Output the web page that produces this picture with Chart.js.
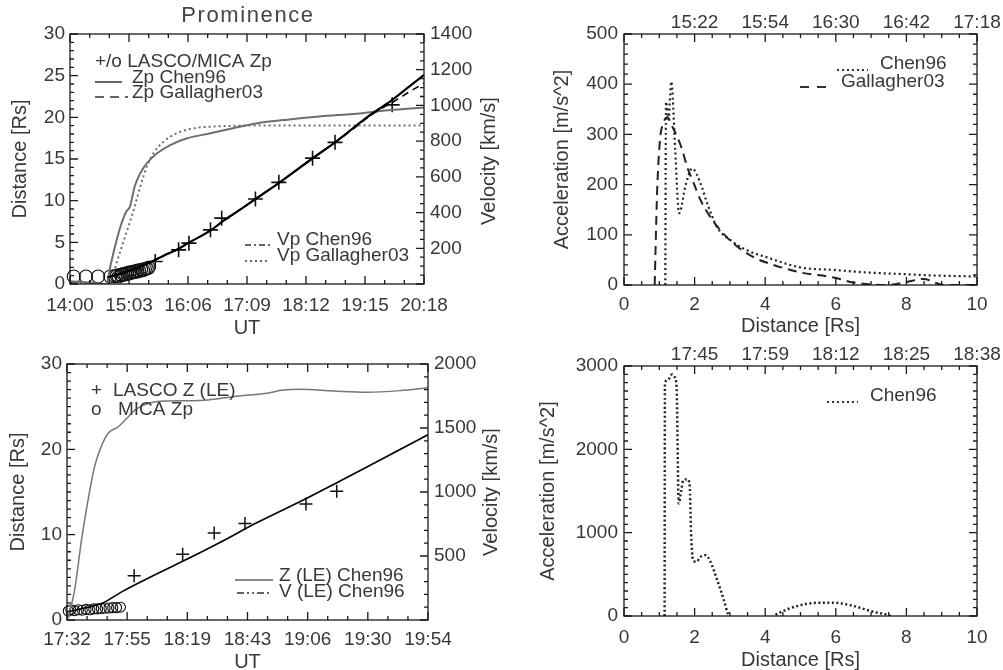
<!DOCTYPE html>
<html>
<head>
<meta charset="utf-8">
<title>Prominence</title>
<script src="https://cdn.jsdelivr.net/npm/chart.js@4"></script>
<style>
  html, body { margin: 0; padding: 0; background: #fff; overflow: hidden; }
  #page { position: relative; width: 1003px; height: 670px; }
  canvas { position: absolute; }
</style>
</head>
<body>
<div id="page">
  <canvas id="promChart" width="500" height="340" style="left:0;top:0"></canvas>
  <canvas id="promAccChart" width="503" height="340" style="left:500px;top:0"></canvas>
  <canvas id="leChart" width="500" height="339" style="left:0;top:335px"></canvas>
  <canvas id="leAccChart" width="503" height="339" style="left:500px;top:335px"></canvas>
</div>
<script>
const FONT = "'Liberation Sans', Arial, sans-serif";
const INK = '#383838';

// Prominence, times in minutes after 14:00 UT
const promTimeLabels = ['14:00', '15:03', '16:06', '17:09', '18:12', '19:15', '20:18'];
const promTimeStep = 63;

const promVelChenT = [0, 20, 39, 43, 48, 55, 60, 64, 69, 75, 82, 93, 107, 125, 150, 174, 203, 228, 263, 299, 334, 378];
const promVelChen = [15, 8, 0, 97, 209, 340, 405, 433, 545, 620, 676, 732, 778, 816, 844, 872, 903, 918, 937, 950, 970, 989];

const promVelGalT = [0, 39, 46, 53, 60, 68, 75, 82, 89, 100, 114, 132, 150, 167, 200, 378];
const promVelGal = [0, 0, 60, 172, 284, 414, 545, 657, 732, 797, 844, 872, 881, 885, 888, 888];

const promZChenT = [40, 50, 60, 70, 80, 90, 100, 114, 126, 151, 164, 180, 198, 224, 258, 283, 300, 317, 343, 360, 378];
const promZChen = [0.8, 1.1, 1.45, 1.85, 2.3, 2.85, 3.4, 4.1, 4.9, 6.5, 7.6, 8.8, 10.2, 12.2, 15.0, 17.0, 18.5, 20.0, 22.0, 23.5, 25.1];

const promZGalT = [40, 50, 60, 70, 80, 90, 100, 114, 126, 151, 164, 180, 198, 224, 258, 283, 300, 317, 330, 343, 363, 378];
const promZGal = [0.8, 1.1, 1.45, 1.85, 2.3, 2.85, 3.4, 4.1, 4.9, 6.5, 7.6, 8.8, 10.2, 12.2, 15.0, 17.0, 18.4, 19.9, 20.9, 21.7, 23.1, 24.1];

const promLascoT = [91, 116, 127, 150, 162, 198, 223, 259, 283, 344];
const promLascoZ = [2.7, 4.1, 4.9, 6.5, 7.9, 10.2, 12.2, 15.1, 17.0, 21.5];

const promMicaT = [4, 17, 30, 43, 48, 50, 52, 54, 55, 57, 59, 61, 63, 64, 66, 68, 70, 72, 74, 76, 78, 80, 82, 84];
const promMicaZ = [0.9, 0.9, 0.9, 0.9, 0.95, 1.0, 0.9, 1.1, 1.05, 1.2, 1.15, 1.3, 1.25, 1.4, 1.35, 1.5, 1.45, 1.6, 1.55, 1.7, 1.65, 1.8, 1.85, 1.95];

// Prominence acceleration vs distance
const promTopDist = [2, 4, 6, 8, 10];
const promTopTimes = ['15:22', '15:54', '16:30', '16:42', '17:18'];

const promAccChenR = [1.17, 1.19, 1.26, 1.34, 1.45, 1.56, 1.75, 1.93, 2.17, 2.36, 2.64, 3.02, 3.49, 4.05, 5.0, 5.94, 6.88, 7.82, 8.77, 10.0];
const promAccChen = [0, 365, 330, 405, 270, 143, 200, 232, 202, 162, 115, 89, 69, 55, 35, 30, 25, 22, 19, 17];

const promAccGalR = [0.87, 0.89, 0.94, 1.02, 1.1, 1.23, 1.37, 1.51, 1.65, 1.79, 1.98, 2.17, 2.45, 2.73, 3.11, 3.68, 4.15, 5.0, 5.94, 6.5, 7.45, 8.0, 8.48, 9.05, 10.0];
const promAccGal = [0, 60, 189, 290, 320, 334, 315, 295, 269, 235, 202, 169, 135, 109, 82, 55, 42, 25, 15, 5, 0, 6, 12, 0, 0];

// Leading edge, times in minutes after 17:32 UT
const leTimeLabels = ['17:32', '17:55', '18:19', '18:43', '19:06', '19:30', '19:54'];
const leTimeStep = 142 / 6;

const leVelT = [0.5, 3.1, 5.8, 8.4, 11.0, 13.7, 16.2, 20.2, 23.5, 26.8, 32.0, 38.6, 47.7, 55.6, 65.4, 78.6, 85.1, 91.7, 104.8, 117.9, 131, 142];
const leVel = [13, 248, 638, 951, 1211, 1367, 1459, 1510, 1576, 1641, 1693, 1711, 1713, 1719, 1745, 1771, 1797, 1802, 1789, 1779, 1792, 1815];

const leZT = [0.5, 7, 13.7, 21.5, 34.6, 47.7, 60.9, 74, 94.5, 142];
const leZ = [0.97, 1.4, 1.95, 3.3, 5.3, 7.2, 9.2, 11.3, 14.3, 21.7];

const leLascoT = [26.4, 45.5, 57.9, 70, 94, 106.1];
const leLascoZ = [5.2, 7.7, 10.2, 11.3, 13.6, 15.1];

const leMicaT = [0.5, 1.5, 3, 4.5, 6, 7.5, 9, 10.5, 12, 13.5, 15, 16.5, 18, 19.5, 21];
const leMicaZ = [1.05, 1.2, 1.1, 1.2, 1.15, 1.25, 1.2, 1.3, 1.3, 1.35, 1.4, 1.4, 1.45, 1.45, 1.5];

// Leading edge acceleration vs distance
const leTopDist = [2, 4, 6, 8, 10];
const leTopTimes = ['17:45', '17:59', '18:12', '18:25', '18:38'];

const leAccR = [1.15, 1.16, 1.23, 1.37, 1.43, 1.49, 1.55, 1.62, 1.68, 1.8, 1.86, 1.9, 1.95, 2.05, 2.17, 2.31, 2.45, 2.64, 2.83, 2.94, 3.2, 3.7, 4.1, 4.24, 5.0, 5.56, 5.94, 6.5, 7.07, 7.49, 7.7];
const leAcc = [0, 2790, 2830, 2900, 2870, 2750, 1350, 1500, 1630, 1640, 1560, 1000, 680, 650, 710, 730, 650, 430, 190, 30, -200, -250, -50, 0, 130, 160, 160, 120, 50, 10, -30];

Chart.defaults.font.family = FONT;
Chart.defaults.color = INK;

function pts(xs, ys) {
  return xs.map((x, i) => ({ x: x, y: ys[i] }));
}

function line(xs, ys, axis, color, width, dash) {
  return {
    data: pts(xs, ys), yAxisID: axis, showLine: true, pointRadius: 0,
    borderColor: color, borderWidth: width, borderDash: dash, borderCapStyle: 'butt',
    cubicInterpolationMode: 'monotone', fill: false
  };
}

function symbols(xs, ys, style, r, width) {
  return {
    data: pts(xs, ys), yAxisID: 'y', showLine: false, pointStyle: style, pointRadius: r,
    pointBorderColor: '#111', pointBackgroundColor: 'rgba(0,0,0,0)', pointBorderWidth: width, clip: false
  };
}

const noGrid = { display: false, drawTicks: false };
const noBorder = { display: false };

function tickOpts(pad, cb) {
  return { color: INK, font: { size: 19 }, padding: pad, maxRotation: 0, autoSkip: false, callback: cb || (v => String(v)) };
}

function axisTitle(text, pad) {
  return { display: true, text: text, color: INK, font: { size: 20 }, padding: pad };
}

// IDL style frame: box, inward major/minor ticks, free-placed legend texts
const idlFrame = {
  id: 'idlFrame',
  afterDraw(chart, args, opts) {
    const { ctx, chartArea: a } = chart;
    ctx.save();
    ctx.strokeStyle = '#1a1a1a';
    ctx.lineWidth = 1.3;
    ctx.setLineDash([]);
    ctx.strokeRect(a.left, a.top, a.right - a.left, a.bottom - a.top);
    Object.values(chart.scales).forEach(s => {
      if ((opts.skip || []).includes(s.id)) return;
      const sub = (opts.minor || {})[s.id] || 1;
      const v = s.ticks.map(t => t.value);
      const marks = [];
      v.forEach((val, i) => {
        marks.push([val, 8]);
        if (i < v.length - 1) {
          for (let k = 1; k < sub; k++) marks.push([val + (v[i + 1] - val) * k / sub, 4]);
        }
      });
      ctx.beginPath();
      marks.forEach(([val, len]) => {
        const p = s.getPixelForValue(val);
        if (s.isHorizontal()) {
          if (s.position === 'bottom') { ctx.moveTo(p, a.bottom); ctx.lineTo(p, a.bottom - len); }
          if (s.position === 'top' || (s.position === 'bottom' && opts.mirrorX)) { ctx.moveTo(p, a.top); ctx.lineTo(p, a.top + len); }
        } else {
          if (s.position === 'left') { ctx.moveTo(a.left, p); ctx.lineTo(a.left + len, p); }
          if (s.position === 'right' || (s.position === 'left' && opts.mirrorY)) { ctx.moveTo(a.right, p); ctx.lineTo(a.right - len, p); }
        }
      });
      ctx.stroke();
    });

    (opts.notes || []).forEach(n => {
      if (n.line) {
        ctx.beginPath();
        ctx.strokeStyle = n.line.color || '#333';
        ctx.lineWidth = n.line.width || 2;
        ctx.setLineDash(n.line.dash || []);
        ctx.moveTo(n.line.x1, n.line.y);
        ctx.lineTo(n.line.x2, n.line.y);
        ctx.stroke();
        ctx.setLineDash([]);
      }
      ctx.fillStyle = n.color || INK;
      ctx.font = (n.size || 19) + 'px ' + FONT;
      ctx.textBaseline = 'middle';
      if (n.rotate) {
        ctx.save();
        ctx.translate(n.x, n.y);
        ctx.rotate(-Math.PI / 2);
        ctx.textAlign = 'center';
        ctx.fillText(n.text, 0, 0);
        ctx.restore();
      } else {
        ctx.textAlign = n.align || 'left';
        if (n.spacing && 'letterSpacing' in ctx) ctx.letterSpacing = n.spacing;
        ctx.fillText(n.text, n.x, n.y);
        if ('letterSpacing' in ctx) ctx.letterSpacing = '0px';
      }
    });
    ctx.restore();
  }
};

const base = { responsive: false, animation: false, devicePixelRatio: 1, events: [] };

// Panel 1: prominence distance and velocity
new Chart(document.getElementById('promChart'), {
  type: 'scatter',
  data: {
    datasets: [
      line(promZChenT, promZChen, 'y', '#000', 2.2, []),
      line(promZGalT, promZGal, 'y', '#000', 1.6, [7, 5]),
      line(promVelChenT, promVelChen, 'y1', '#6e6e6e', 2, []),
      line(promVelGalT, promVelGal, 'y1', '#6e6e6e', 2, [2, 3]),
      symbols(promLascoT, promLascoZ, 'cross', 7.5, 1.6),
      symbols(promMicaT, promMicaZ, 'circle', 6.5, 1.2)
    ]
  },
  options: {
    ...base,
    layout: { padding: { top: 34 } },
    plugins: {
      legend: { display: false },
      tooltip: { enabled: false },
      idlFrame: {
        minor: { x: 3, y: 5, y1: 4 },
        mirrorX: true,
        notes: [
          { text: 'Prominence', x: 248, y: 16, size: 22, align: 'center', spacing: '1.6px', color: '#444' },
          { text: '+/o LASCO/MICA Zp', x: 95, y: 62 },
          { text: 'Zp Chen96', x: 132, y: 78, line: { x1: 95, x2: 122, y: 82, color: '#666', width: 2 } },
          { text: 'Zp Gallagher03', x: 132, y: 93, line: { x1: 95, x2: 128, y: 97, dash: [9, 6], width: 1.6 } },
          { text: 'Vp Chen96', x: 277, y: 240, line: { x1: 245, x2: 270, y: 245, dash: [6, 3, 2, 3], width: 1.6 } },
          { text: 'Vp Gallagher03', x: 277, y: 256, line: { x1: 245, x2: 268, y: 261, dash: [2, 3], width: 1.6 } },
          { text: 'Velocity [km/s]', x: 489, y: 161, rotate: true, size: 20 }
        ]
      }
    },
    scales: {
      x: {
        type: 'linear', position: 'bottom', min: 0, max: 378,
        afterBuildTicks: s => { s.ticks = promTimeLabels.map((_, i) => ({ value: i * promTimeStep })); },
        afterFit: s => { s.height = 56; },
        grid: noGrid, border: noBorder,
        ticks: tickOpts(10, (v, i) => promTimeLabels[i]),
        title: axisTitle('UT', { top: 0, bottom: 0 })
      },
      y: {
        position: 'left', min: 0, max: 30,
        afterFit: s => { s.width = 70; },
        grid: noGrid, border: noBorder,
        ticks: { ...tickOpts(5), stepSize: 5 },
        title: axisTitle('Distance [Rs]', { top: 8, bottom: 0 })
      },
      y1: {
        position: 'right', min: 0, max: 1400,
        afterFit: s => { s.width = 76; },
        grid: noGrid, border: noBorder,
        ticks: { ...tickOpts(6, v => (v === 0 ? '' : String(v))), stepSize: 200 }
      }
    }
  },
  plugins: [idlFrame]
});

// Panel 2: prominence acceleration
new Chart(document.getElementById('promAccChart'), {
  type: 'scatter',
  data: {
    datasets: [
      line(promAccChenR, promAccChen, 'y', '#222', 2.2, [2, 3]),
      line(promAccGalR, promAccGal, 'y', '#222', 2, [9, 6])
    ]
  },
  options: {
    ...base,
    layout: { padding: { right: 26 } },
    plugins: {
      legend: { display: false },
      tooltip: { enabled: false },
      idlFrame: {
        minor: { x: 4, y: 5 },
        mirrorX: true, mirrorY: true, skip: ['x2'],
        notes: [
          { text: 'Chen96', x: 380, y: 64, line: { x1: 337, x2: 368, y: 70, dash: [2, 3], width: 2 } },
          { text: 'Gallagher03', x: 341, y: 82, line: { x1: 300, x2: 332, y: 87, dash: [9, 8], width: 2 } }
        ]
      }
    },
    scales: {
      x: {
        type: 'linear', position: 'bottom', min: 0, max: 10,
        afterFit: s => { s.height = 55; },
        grid: noGrid, border: noBorder,
        ticks: { ...tickOpts(8), stepSize: 2 },
        title: axisTitle('Distance [Rs]', { top: 0, bottom: 2 })
      },
      x2: {
        type: 'linear', position: 'top', min: 0, max: 10,
        afterBuildTicks: s => { s.ticks = promTopDist.map(d => ({ value: d })); },
        afterFit: s => { s.height = 34; },
        grid: noGrid, border: noBorder,
        ticks: tickOpts(0, (v, i) => promTopTimes[i])
      },
      y: {
        position: 'left', min: 0, max: 500,
        afterFit: s => { s.width = 124; },
        grid: noGrid, border: noBorder,
        ticks: { ...tickOpts(6), stepSize: 100 },
        title: axisTitle('Acceleration [m/s^2]', { top: 50, bottom: 0 })
      }
    }
  },
  plugins: [idlFrame]
});

// Panel 3: leading edge distance and velocity
new Chart(document.getElementById('leChart'), {
  type: 'scatter',
  data: {
    datasets: [
      line(leZT, leZ, 'y', '#000', 1.6, []),
      line(leVelT, leVel, 'y1', '#777', 1.5, []),
      symbols(leLascoT, leLascoZ, 'cross', 6.5, 1.5),
      symbols(leMicaT, leMicaZ, 'circle', 5, 1.1)
    ]
  },
  options: {
    ...base,
    layout: { padding: { top: 29 } },
    plugins: {
      legend: { display: false },
      tooltip: { enabled: false },
      idlFrame: {
        minor: { x: 3, y: 10, y1: 5 },
        mirrorX: true,
        notes: [
          { text: '+', x: 91, y: 56 },
          { text: 'LASCO Z (LE)', x: 113, y: 56 },
          { text: 'o', x: 91, y: 75 },
          { text: 'MICA Zp', x: 118, y: 75 },
          { text: 'Z (LE) Chen96', x: 279, y: 241, line: { x1: 235, x2: 273, y: 245, color: '#666', width: 1.5 } },
          { text: 'V (LE) Chen96', x: 279, y: 257, line: { x1: 237, x2: 272, y: 258, dash: [7, 3, 2, 3, 2, 3], width: 1.5 } },
          { text: 'Velocity [km/s]', x: 491, y: 157, rotate: true, size: 20 }
        ]
      }
    },
    scales: {
      x: {
        type: 'linear', position: 'bottom', min: 0, max: 142,
        afterBuildTicks: s => { s.ticks = leTimeLabels.map((_, i) => ({ value: i * leTimeStep })); },
        afterFit: s => { s.height = 54; },
        grid: noGrid, border: noBorder,
        ticks: tickOpts(8, (v, i) => leTimeLabels[i]),
        title: axisTitle('UT', { top: 0, bottom: 0 })
      },
      y: {
        position: 'left', min: 0, max: 30,
        afterFit: s => { s.width = 67; },
        grid: noGrid, border: noBorder,
        ticks: { ...tickOpts(5), stepSize: 10 },
        title: axisTitle('Distance [Rs]', { top: 6, bottom: 0 })
      },
      y1: {
        position: 'right', min: 0, max: 2000,
        afterFit: s => { s.width = 72; },
        grid: noGrid, border: noBorder,
        ticks: { ...tickOpts(6, v => (v === 0 ? '' : String(v))), stepSize: 500 }
      }
    }
  },
  plugins: [idlFrame]
});

// Panel 4: leading edge acceleration
new Chart(document.getElementById('leAccChart'), {
  type: 'scatter',
  data: {
    datasets: [
      line(leAccR, leAcc, 'y', '#222', 2.5, [2, 2.5])
    ]
  },
  options: {
    ...base,
    layout: { padding: { right: 26 } },
    plugins: {
      legend: { display: false },
      tooltip: { enabled: false },
      idlFrame: {
        minor: { x: 4, y: 10 },
        mirrorX: true, mirrorY: true, skip: ['x2'],
        notes: [
          { text: 'Chen96', x: 370, y: 61, line: { x1: 327, x2: 358, y: 67, dash: [2, 3], width: 2 } }
        ]
      }
    },
    scales: {
      x: {
        type: 'linear', position: 'bottom', min: 0, max: 10,
        afterFit: s => { s.height = 58; },
        grid: noGrid, border: noBorder,
        ticks: { ...tickOpts(10), stepSize: 2 },
        title: axisTitle('Distance [Rs]', { top: 0, bottom: 2 })
      },
      x2: {
        type: 'linear', position: 'top', min: 0, max: 10,
        afterBuildTicks: s => { s.ticks = leTopDist.map(d => ({ value: d })); },
        afterFit: s => { s.height = 31; },
        grid: noGrid, border: noBorder,
        ticks: tickOpts(0, (v, i) => leTopTimes[i])
      },
      y: {
        position: 'left', min: 0, max: 3000,
        afterFit: s => { s.width = 124; },
        grid: noGrid, border: noBorder,
        ticks: { ...tickOpts(6), stepSize: 1000 },
        title: axisTitle('Acceleration [m/s^2]', { top: 36, bottom: 0 })
      }
    }
  },
  plugins: [idlFrame]
});
</script>
</body>
</html>
